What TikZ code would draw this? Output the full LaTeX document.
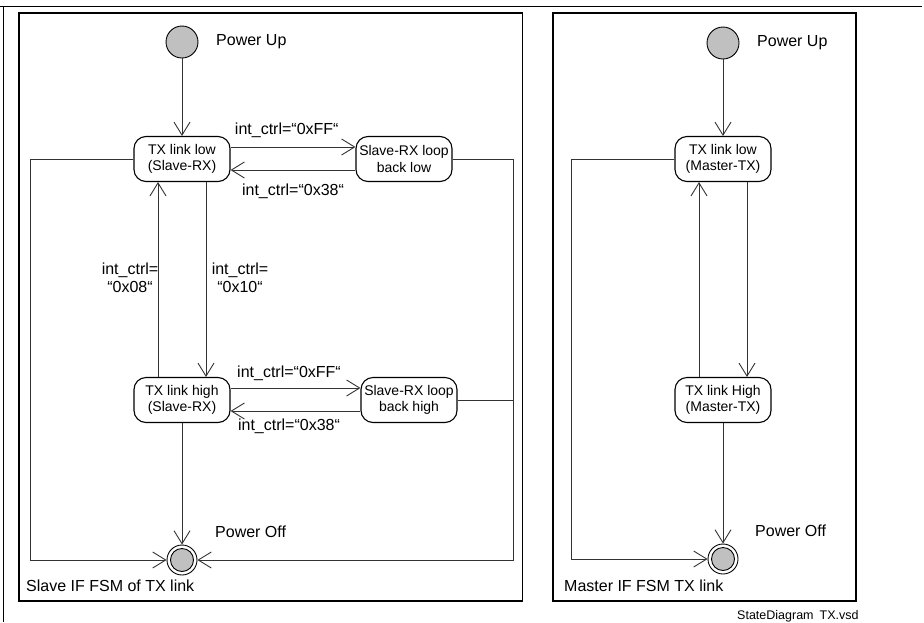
\documentclass[tikz,border=0pt]{standalone}
\usepackage{fontspec}
\setmainfont{Liberation Sans}
\usetikzlibrary{arrows.meta,calc}
\definecolor{stategray}{HTML}{C0C0C0}
\begin{document}
\begin{tikzpicture}[x=1pt,y=-1pt,
  statebox/.style={draw, line width=1.1pt, rounded corners=12pt, minimum width=96pt,
    minimum height=45pt, align=center, inner sep=0pt, font=\fontsize{14}{16.5}\selectfont},
  initst/.style={circle, draw, line width=0.9pt, fill=stategray, minimum size=32pt, inner sep=0pt},
  finst/.style={circle, draw, line width=0.9pt, fill=white, minimum size=30pt, inner sep=0pt},
  lab/.style={inner sep=0pt, align=center, font=\fontsize{16}{18}\selectfont},
  conn/.style={draw=black!80, line width=0.9pt},
  arr/.style={conn, -{Straight Barb[length=13pt,width=16pt,line width=0.9pt]}},
  frame/.style={draw, line width=1.8pt}]
\useasboundingbox (0,0) rectangle (924,622);
% outer page lines
\draw[line width=1pt] (0,6) -- (922,6);
\draw[line width=1pt] (3.5,6) -- (3.5,622);
% frames
\draw[frame] (19,13) rectangle (522.5,601);
\draw[frame] (553,13) rectangle (856,601);

% ===== Slave diagram =====
\node[initst] (ini1) at (182,42) {};
\node[lab, anchor=west] (pu1) at (216,42) {Power Up};
\node[statebox] (low1) at (182,159) {TX link low\\(Slave-RX)};
\node[statebox] (lb1) at (404,159) {Slave-RX loop\\back low};
\node[statebox] (high1) at (182,400) {TX link high\\(Slave-RX)};
\node[statebox] (lb2) at (409,400) {Slave-RX loop\\back high};
\node[finst] (fin1) at (182,560) {};
\fill[stategray, draw=black, line width=0.9pt] (fin1.center) circle (11.5pt);
\node[lab, anchor=west] (po1) at (215,532) {Power Off};
\node[lab, anchor=west] (t1) at (26,586) {Slave IF FSM of TX link};

\coordinate (c1) at (30,0);
\coordinate (c2) at (513,0);

\draw[arr] (ini1) -- (low1);
\draw[arr] ([yshift=12pt]low1.east) -- ([yshift=12pt]lb1.west)
  node[lab, pos=0.45, above=9pt] (l1) {int\_ctrl=“0xFF“};
\draw[arr] ([yshift=-11pt]lb1.west) -- ([yshift=-11pt]low1.east)
  node[lab, pos=0.5, below=13pt] (l2) {int\_ctrl=“0x38“};
\draw[arr] ([xshift=24pt]low1.south) -- ([xshift=24pt]high1.north);
\draw[arr] ([xshift=-24pt]high1.north) -- ([xshift=-24pt]low1.south);
\node[lab] (l3) at (130,278) {int\_ctrl=\\“0x08“};
\node[lab] (l4) at (240,278) {int\_ctrl=\\“0x10“};
\draw[arr] ([yshift=12pt]high1.east) -- ([yshift=12pt]lb2.west)
  node[lab, pos=0.45, above=7pt] (l5) {int\_ctrl=“0xFF“};
\draw[arr] ([yshift=-11pt]lb2.west) -- ([yshift=-11pt]high1.east)
  node[lab, pos=0.55, below=7pt] (l6) {int\_ctrl=“0x38“};
\draw[arr] (high1) -- (fin1);
\draw[arr] (low1.west) -- (low1.west -| c1) -- (c1 |- fin1) -- (fin1.west);
\draw[arr] (lb1.east) -- (lb1.east -| c2) -- (c2 |- fin1) -- (fin1.east);
\draw[conn] (lb2.east) -- (lb2.east -| c2);

% ===== Master diagram =====
\node[initst] (ini2) at (723,43) {};
\node[lab, anchor=west] (pu2) at (757,43) {Power Up};
\node[statebox] (low2) at (723,159) {TX link low\\(Master-TX)};
\node[statebox] (high2) at (723,400) {TX link High\\(Master-TX)};
\node[finst] (fin2) at (723,559) {};
\fill[stategray, draw=black, line width=0.9pt] (fin2.center) circle (11.5pt);
\node[lab, anchor=west] (po2) at (755,531) {Power Off};
\node[lab, anchor=west] (t2) at (564,586) {Master IF FSM TX link};
\coordinate (c3) at (571,0);

\draw[arr] (ini2) -- (low2);
\draw[arr] ([xshift=24pt]low2.south) -- ([xshift=24pt]high2.north);
\draw[arr] ([xshift=-24pt]high2.north) -- ([xshift=-24pt]low2.south);
\draw[arr] (high2) -- (fin2);
\draw[arr] (low2.west) -- (low2.west -| c3) -- (c3 |- fin2) -- (fin2.west);

\node[inner sep=0pt, anchor=west, font=\fontsize{12.5}{14}\selectfont] (fn) at (737,616) {StateDiagram\hspace{6pt}TX.vsd};
\end{tikzpicture}
\end{document}
